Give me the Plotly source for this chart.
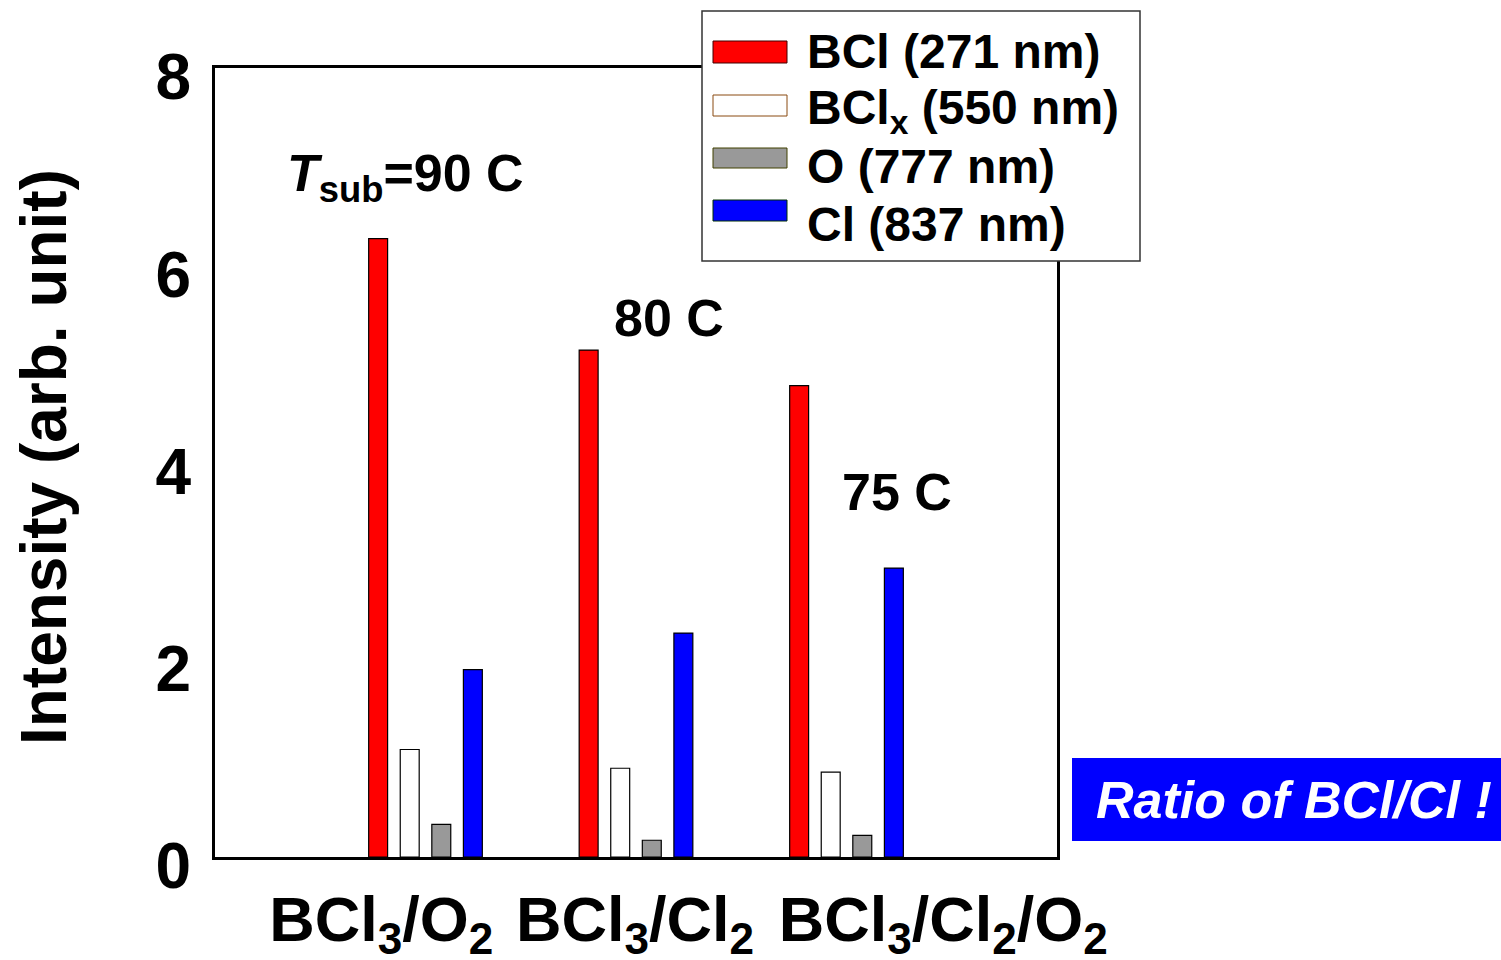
import plotly.graph_objects as go

# ---- data ----
groups = [0, 1, 2]
category_labels = ["BCl<sub>3</sub>/O<sub>2</sub>", "BCl<sub>3</sub>/Cl<sub>2</sub>",
                   "BCl<sub>3</sub>/Cl<sub>2</sub>/O<sub>2</sub>"]
series_names = ["BCl (271 nm)", "BCl<sub>x</sub> (550 nm)", "O (777 nm)", "Cl (837 nm)"]
bcl_271 = [6.27, 5.14, 4.78]
bclx_550 = [1.09, 0.90, 0.86]
o_777 = [0.33, 0.17, 0.22]
cl_837 = [1.90, 2.27, 2.93]
temps = ["<i>T</i><sub>sub</sub>=90 C", "80 C", "75 C"]
y_ticks = [0, 2, 4, 6, 8]

series_values = [bcl_271, bclx_550, o_777, cl_837]
colors = ["#FF0000", "#FFFFFF", "#999999", "#0000FF"]
swatch_lines = ["#400000", "#8A4A10", "#404000", "#003000"]

FONT = "Liberation Sans, Arial, sans-serif"
W, H = 1501, 960
L, R, T, B = 215, 1057, 68, 857


def px(x):
    return (x - L) / (R - L)


def py(y):
    return (B - y) / (B - T)


fig = go.Figure()
for name, vals, col in zip(series_names, series_values, colors):
    fig.add_trace(go.Bar(x=groups, y=vals, name=name, marker_color=col,
                         marker_line_color="black", marker_line_width=1.2,
                         showlegend=False))

shapes = []
annotations = []

# custom legend
shapes.append(dict(type="rect", xref="paper", yref="paper", layer="above",
                   x0=px(702), x1=px(1140), y0=py(261), y1=py(11),
                   fillcolor="white", line=dict(color="#333333", width=1.5)))
sw_y = [(41, 63), (95, 116), (148, 168), (200, 221)]
txt_y = [52, 111, 166, 225]
for i, name in enumerate(series_names):
    shapes.append(dict(type="rect", xref="paper", yref="paper", layer="above",
                       x0=px(713), x1=px(787), y0=py(sw_y[i][1]), y1=py(sw_y[i][0]),
                       fillcolor=colors[i], line=dict(color=swatch_lines[i], width=1)))
    annotations.append(dict(xref="paper", yref="paper", x=px(805), y=py(txt_y[i]),
                            xanchor="left", yanchor="middle", showarrow=False,
                            text="<b>%s</b>" % name,
                            font=dict(family=FONT, size=48, color="black")))

# temperature annotations
t_pos = [(285, 177), (612, 318), (840, 492)]
for t, (xx, yy) in zip(temps, t_pos):
    annotations.append(dict(xref="paper", yref="paper", x=px(xx), y=py(yy),
                            xanchor="left", yanchor="middle", showarrow=False,
                            text="<b>%s</b>" % t,
                            font=dict(family=FONT, size=52, color="black")))

# y axis title
annotations.append(dict(xref="paper", yref="paper", x=px(44), y=py(457),
                        xanchor="center", yanchor="middle", showarrow=False,
                        textangle=-90, text="<b>Intensity (arb. unit)</b>",
                        font=dict(family=FONT, size=64, color="black")))

# ratio box
shapes.append(dict(type="rect", xref="paper", yref="paper", layer="above",
                   x0=px(1072), x1=px(1501), y0=py(841), y1=py(758),
                   fillcolor="#0000FF", line=dict(width=0)))
annotations.append(dict(xref="paper", yref="paper", x=px(1094), y=py(800),
                        xanchor="left", yanchor="middle", showarrow=False,
                        text="<b><i>Ratio of BCl/Cl !</i></b>",
                        font=dict(family=FONT, size=52, color="white")))

fig.update_layout(
    width=W, height=H,
    margin=dict(l=L, r=W - R, t=T, b=H - B, pad=0),
    paper_bgcolor="white", plot_bgcolor="white",
    barmode="group", bargap=0.4, bargroupgap=0.4,
    shapes=shapes, annotations=annotations,
    font=dict(family=FONT, color="black"),
    xaxis=dict(range=[-1, 3], showgrid=False, zeroline=False, automargin=False,
               showline=True, linecolor="black", linewidth=3, mirror=True,
               tickvals=[-0.21, 0.995, 2.46], tickangle=0,
               ticktext=["<b>%s</b>" % c for c in category_labels],
               tickfont=dict(family=FONT, size=63, color="black"),
               ticks="", ticklabelstandoff=5),
    yaxis=dict(range=[0, 8], showgrid=False, zeroline=False, automargin=False,
               showline=True, linecolor="black", linewidth=3, mirror=True,
               tickvals=y_ticks, ticktext=["<b>%d</b>" % v for v in y_ticks],
               tickfont=dict(family=FONT, size=64, color="black"),
               ticks="", ticklabelstandoff=8, ticklabelshift=9),
)

fig.write_html("out.html")
